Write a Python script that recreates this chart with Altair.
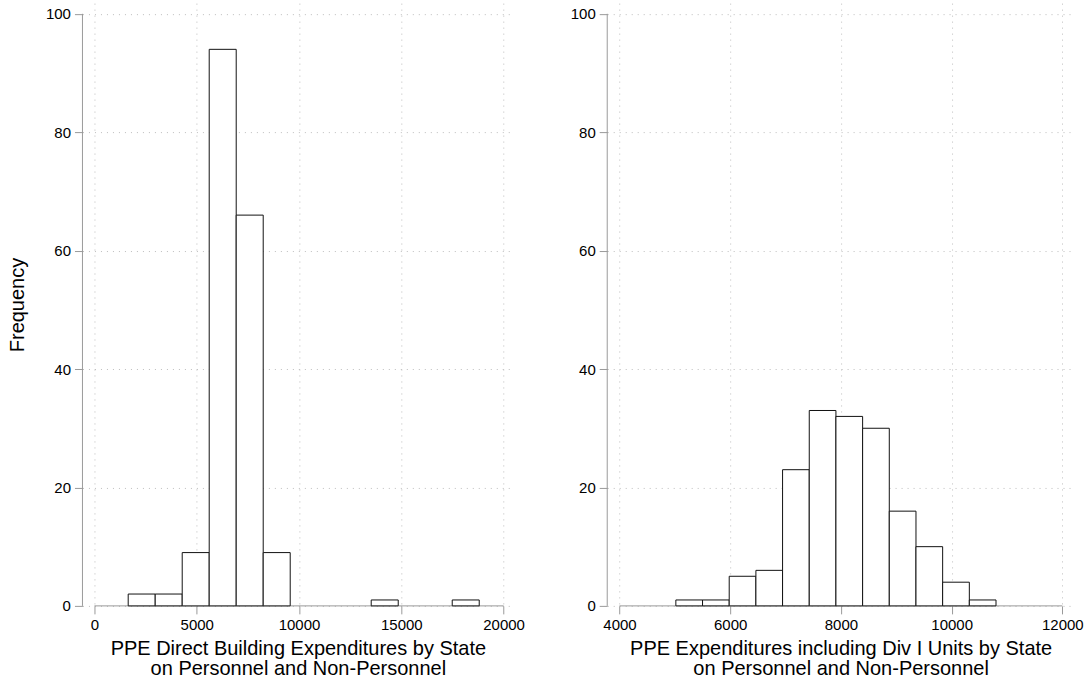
import altair as alt
import pandas as pd

FONT = "Liberation Sans"

# Direct building expenditures: 13 equal-width bins
left_edges = [1650, 2970, 4290, 5610, 6930, 8250, 9570, 10890, 12210,
              13530, 14850, 16170, 17490, 18810]
left_counts = [2, 2, 9, 94, 66, 9, 0, 0, 0, 1, 0, 0, 1]
left_ticks = [0, 5000, 10000, 15000, 20000]
left_title = ["PPE Direct Building Expenditures by State",
              "on Personnel and Non-Personnel"]

# Expenditures including Div I units: 12 equal-width bins
right_edges = [5018, 5500, 5982, 6464, 6946, 7428, 7910, 8392, 8874,
               9356, 9838, 10320, 10802]
right_counts = [1, 1, 5, 6, 23, 33, 32, 30, 16, 10, 4, 1]
right_ticks = [4000, 6000, 8000, 10000, 12000]
right_title = ["PPE Expenditures including Div I Units by State",
               "on Personnel and Non-Personnel"]

freq_ticks = [0, 20, 40, 60, 80, 100]

AXIS_GREY = "#9a9a9a"


def bin_table(edges, counts):
    df = pd.DataFrame({"lo": edges[:-1], "hi": edges[1:], "count": counts})
    return df[df["count"] > 0]


def panel(edges, counts, ticks, xdomain, xtitle, ytitle, width):
    df = bin_table(edges, counts)
    x_scale = alt.Scale(domain=xdomain, nice=False, zero=False)
    y_scale = alt.Scale(domain=[0, 101.8], nice=False)

    x_axis = alt.Axis(values=ticks, format="d", title=xtitle,
                      domain=False, grid=True, labelFlush=False,
                      titlePadding=6, titleLineHeight=20)
    if ytitle:
        y_axis = alt.Axis(values=freq_ticks, domain=False, grid=True,
                          title=ytitle, titlePadding=18)
    else:
        y_axis = alt.Axis(values=freq_ticks, domain=False, grid=True,
                          title=None)

    one_row = pd.DataFrame({"k": [0]})

    # axis lines spanning the tick range only
    x_line = alt.Chart(one_row).mark_rule(color=AXIS_GREY, strokeWidth=1).encode(
        x=alt.datum(ticks[0], scale=x_scale, axis=x_axis),
        x2=alt.datum(ticks[-1]),
        y=alt.datum(0, scale=y_scale, axis=y_axis),
    )
    y_line = alt.Chart(one_row).mark_rule(color=AXIS_GREY, strokeWidth=1).encode(
        x=alt.value(0),
        y=alt.datum(0),
        y2=alt.datum(100),
    )

    bars = alt.Chart(df).mark_rect(
        fill="white", stroke="#111111", strokeWidth=1
    ).encode(
        x=alt.X("lo:Q", axis=x_axis),
        x2="hi:Q",
        y=alt.Y("count:Q", axis=y_axis),
        y2=alt.datum(0),
    )

    return alt.layer(x_line, y_line, bars).properties(width=width, height=603)


left = panel(left_edges, left_counts, left_ticks, [-586, 20474],
             left_title, "Frequency", 431)
right = panel(right_edges, right_counts, right_ticks, [3778, 12211],
              right_title, None, 467)

chart = alt.hconcat(left, right, spacing=94, bounds="flush").properties(
    padding={"left": 6.5, "top": 2, "right": 0, "bottom": 0}
).configure_axis(
    labelFont=FONT, titleFont=FONT,
    labelFontSize=15, titleFontSize=20,
    labelColor="black", titleColor="black",
    titleFontWeight="normal",
    tickColor=AXIS_GREY, tickSize=8, tickWidth=1,
    gridColor="#bdbdbd", gridDash=[1, 5], gridWidth=1,
    labelPadding=4,
).configure_view(stroke="transparent")

chart.save("out.html", embed_options={"renderer": "svg", "actions": False})
